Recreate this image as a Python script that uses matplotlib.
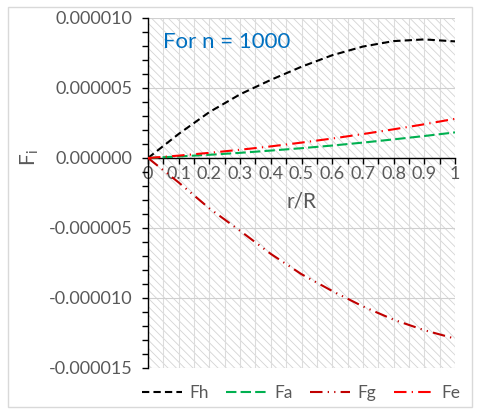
import matplotlib.pyplot as plt
import numpy as np
from matplotlib.patches import Rectangle
from matplotlib.ticker import MultipleLocator, FuncFormatter

plt.rcParams['font.family'] = ['Lato', 'DejaVu Sans']
plt.rcParams['hatch.linewidth'] = 0.6
plt.rcParams['hatch.color'] = '#d4d4d4'

# r/R positions and force components (units of 1e-6)
r = [0.0, 0.1, 0.2, 0.3, 0.4, 0.5, 0.6, 0.7, 0.8, 0.9, 1.0]
fh = [0.0, 1.72, 3.28, 4.55, 5.58, 6.52, 7.34, 7.96, 8.35, 8.47, 8.33]
fa = [0.0, 0.11, 0.23, 0.37, 0.53, 0.70, 0.89, 1.10, 1.33, 1.57, 1.83]
fg = [0.0, -1.75, -3.60, -5.20, -6.85, -8.30, -9.50, -10.60, -11.55, -12.30, -12.90]
fe = [0.0, 0.17, 0.37, 0.59, 0.83, 1.10, 1.39, 1.71, 2.05, 2.41, 2.80]
labels = ['Fh', 'Fa', 'Fg', 'Fe']

grey = '#595959'

fig = plt.figure(figsize=(4.8, 4.2), dpi=100)
# chart border
fig.patches.append(Rectangle((8 / 480, 13 / 420), 464 / 480, 400 / 420,
                             transform=fig.transFigure, fill=False,
                             edgecolor='#d9d9d9', linewidth=1.0))

ax = fig.add_axes([148 / 480, 52 / 420, 307 / 480, 350 / 420])
ax.set_xlim(0, 1)
ax.set_ylim(-0.000015, 0.000010)

# hatched plot area
ax.add_patch(Rectangle((0, 0), 1, 1, transform=ax.transAxes, facecolor='white',
                       hatch='\\\\\\\\', edgecolor='#d4d4d4', linewidth=0, zorder=0))

ax.xaxis.set_major_locator(MultipleLocator(0.1))
ax.xaxis.set_minor_locator(MultipleLocator(0.05))
ax.yaxis.set_major_locator(MultipleLocator(0.000005))
ax.yaxis.set_minor_locator(MultipleLocator(0.000001))
ax.grid(which='minor', axis='x', color='#dcdcdc', linewidth=0.8, zorder=1)
ax.grid(which='major', axis='x', color='#dcdcdc', linewidth=0.8, zorder=1)
ax.grid(which='major', axis='y', color='#d0d0d0', linewidth=0.8, zorder=1)
ax.set_axisbelow(True)

ax.xaxis.set_major_formatter(FuncFormatter(lambda v, p: '{:g}'.format(round(v, 2))))
ax.yaxis.set_major_formatter(FuncFormatter(lambda v, p: '{:.6f}'.format(v)))

ax.spines['top'].set_visible(False)
ax.spines['right'].set_visible(False)
ax.spines['bottom'].set_position(('data', 0))
ax.spines['bottom'].set_color('black')
ax.spines['left'].set_color('black')
ax.spines['bottom'].set_linewidth(1.0)
ax.spines['left'].set_linewidth(1.0)

ax.tick_params(which='both', direction='out', color='black', width=1.0)
ax.tick_params(which='major', length=4, labelcolor=grey, labelsize=13)
ax.tick_params(which='minor', length=4)
ax.tick_params(axis='x', pad=2)
ax.tick_params(axis='y', pad=7)

rx = np.array(r)
s = 1e-6
ax.plot(rx, np.array(fh) * s, color='black', linewidth=1.5, dashes=(3.5, 2), zorder=3)
ax.plot(rx, np.array(fa) * s, color='#00B050', linewidth=1.5, dashes=(5, 2), zorder=3)
ax.plot(rx, np.array(fg) * s, color='#C00000', linewidth=1.5,
        dashes=(6, 2.5, 0.6, 2.5, 0.6, 2.5), zorder=3)
ax.plot(rx, np.array(fe) * s, color='#FF0000', linewidth=1.5,
        dashes=(6, 2.5, 0.6, 2.5), zorder=3)

for ln, lab in zip(ax.get_lines(), labels):
    ln.set_label(lab)

ax.set_xlabel('r/R', color=grey, fontsize=15)
ax.xaxis.set_label_coords(0.5, 0.505)
fig.text(30 / 480, 1 - 158 / 420, r'F$_\mathregular{i}$', color=grey, fontsize=15,
         rotation=90, ha='center', va='center')

ax.text(0.05, 0.93, 'For n = 1000', transform=ax.transAxes, color='#0070C0',
        fontsize=16, ha='left', va='center')

fig.legend(loc='center', bbox_to_anchor=(301 / 480, 1 - 393 / 420), ncol=4,
           frameon=False, fontsize=12.5, handlelength=2.3, columnspacing=1.0,
           handletextpad=0.45, labelcolor=grey)

fig.savefig('out.png', dpi=100)
